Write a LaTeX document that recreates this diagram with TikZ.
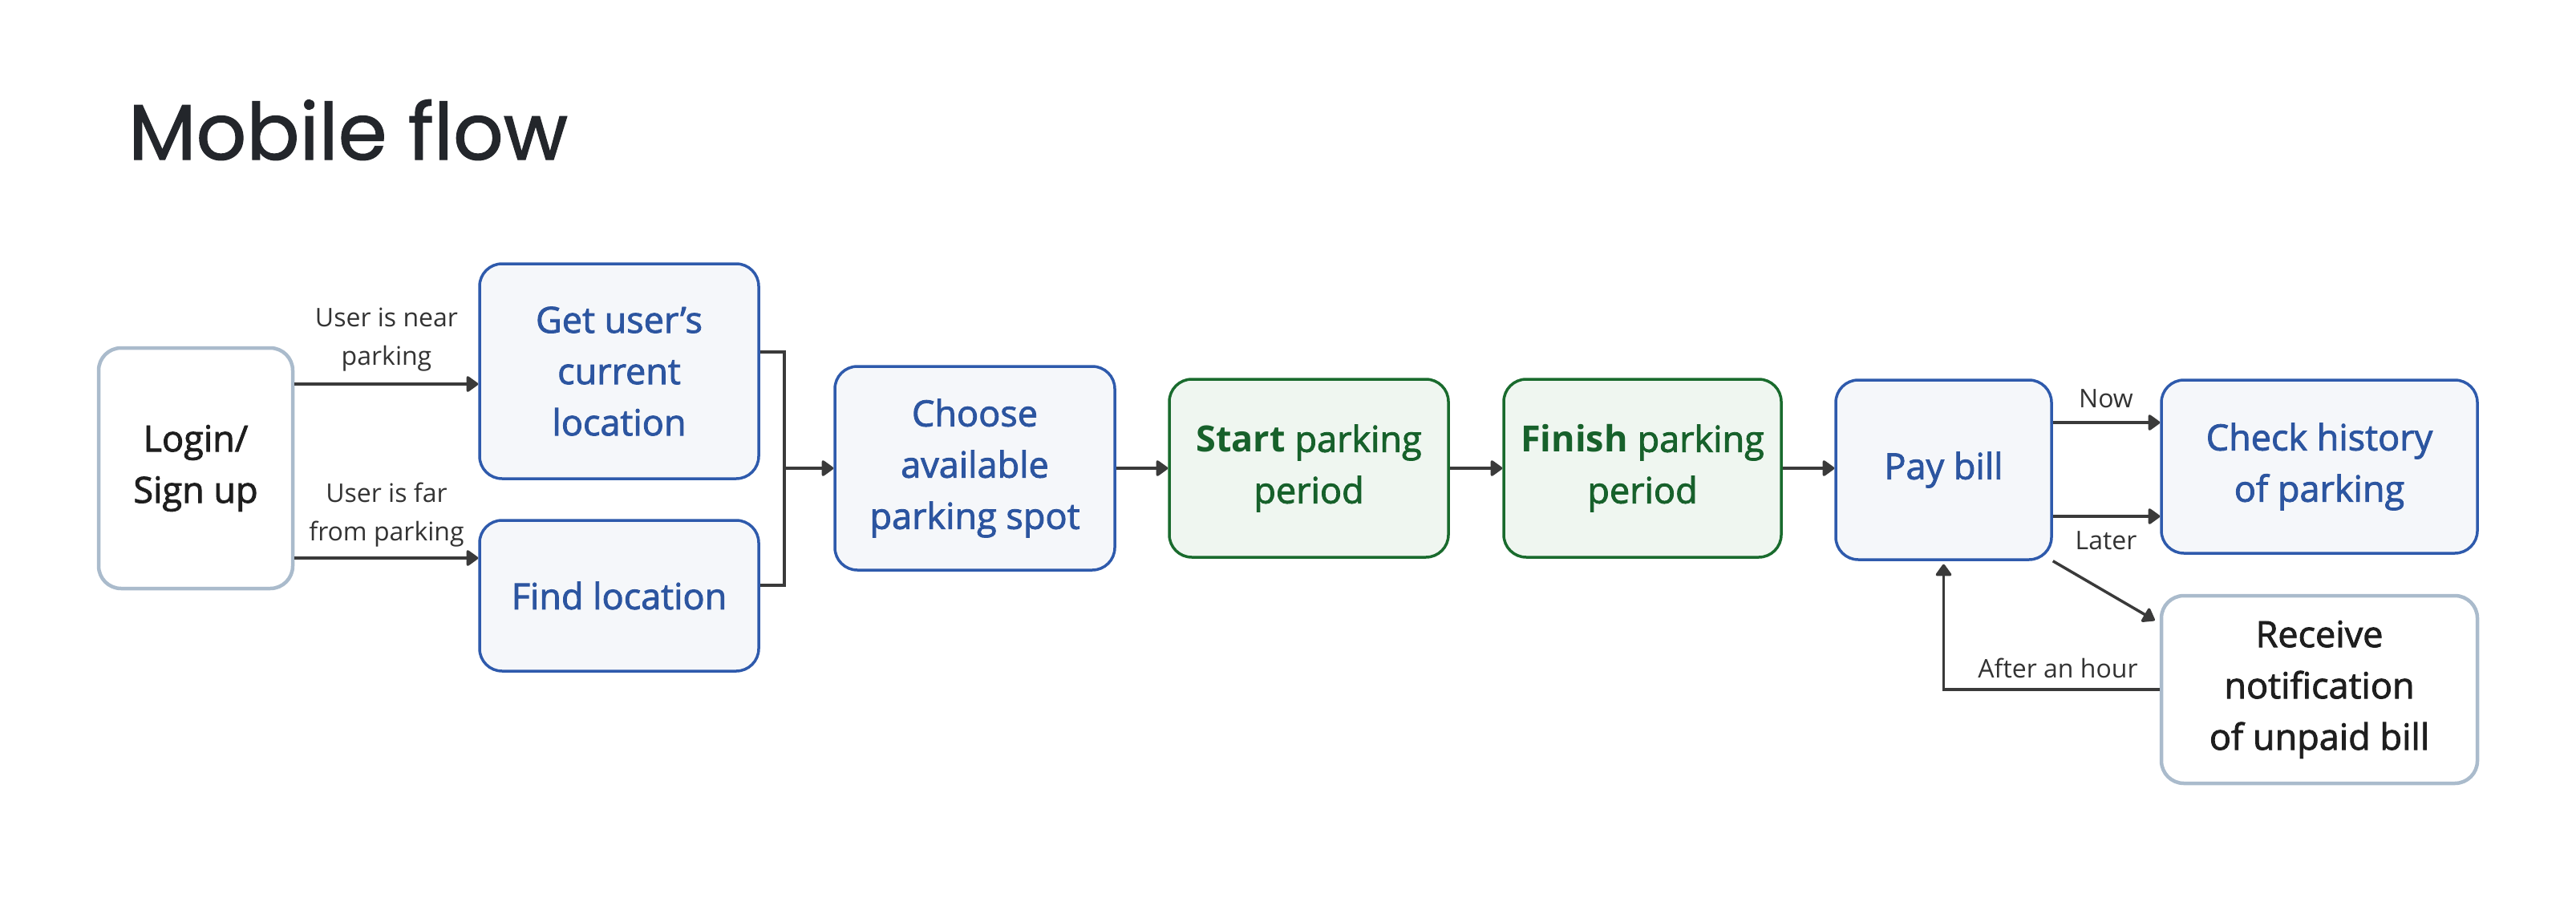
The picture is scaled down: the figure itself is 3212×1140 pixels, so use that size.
\documentclass[tikz,border=0pt]{standalone}
\usepackage{fontspec}
\setmainfont{Open Sans}
\newfontfamily\semib{Open Sans}[UprightFeatures={FakeBold=2}]
\newfontfamily\titlefont{Poppins}[FakeBold=1.2]
\usetikzlibrary{arrows.meta}
\definecolor{cBlueB}{HTML}{2E5AAC}
\definecolor{cBlueF}{HTML}{F5F7FA}
\definecolor{cBlueT}{HTML}{2C55A0}
\definecolor{cGreenB}{HTML}{196B2D}
\definecolor{cGreenF}{HTML}{EFF6F0}
\definecolor{cGreenT}{HTML}{17612B}
\definecolor{cGrayB}{HTML}{AABBCC}
\definecolor{cDark}{HTML}{1E1E1E}
\definecolor{cLine}{HTML}{3A3A3A}
\definecolor{cLbl}{HTML}{333333}
\definecolor{cTitle}{HTML}{23262B}
\begin{document}
\begin{tikzpicture}[x=1pt,y=-1pt,
  box/.style={rectangle, rounded corners=28pt, line width=3.5pt, align=center, inner sep=0pt, font=\semib\fontsize{45}{64}\selectfont},
  bluebox/.style={box, draw=cBlueB, fill=cBlueF, text=cBlueT},
  greenbox/.style={box, draw=cGreenB, fill=cGreenF, text=cGreenT},
  graybox/.style={box, draw=cGrayB, line width=4.5pt, fill=white, text=cDark},
  lbl/.style={font=\fontsize{32}{48}\selectfont, text=cLbl, align=center, inner sep=0pt},
  arr/.style={draw=cLine, line width=3.5pt, -{Triangle[length=16pt,width=22pt,round]}},
  conn/.style={draw=cLine, line width=3.5pt}
]
\useasboundingbox[fill=white] (0,0) rectangle (3212,1140);

\node[anchor=base west, inner sep=0pt, text=cTitle, font=\titlefont\fontsize{98}{110}\selectfont] (title) at (160,199) {Mobile flow};

\node[graybox, minimum width=242pt, minimum height=300pt] (login) at (244,584) {Login/\\Sign up};
\node[bluebox, minimum width=348pt, minimum height=268pt] (get) at (772,463) {Get user’s\\current\\location};
\node[bluebox, minimum width=348pt, minimum height=188pt] (find) at (772,743) {Find location};
\node[bluebox, minimum width=349pt, minimum height=254pt] (choose) at (1215.5,584) {Choose\\available\\parking spot};
\node[greenbox, minimum width=348pt, minimum height=222pt] (start) at (1632,584) {{\bfseries Start} parking\\period};
\node[greenbox, minimum width=346pt, minimum height=222pt] (finish) at (2048,584) {{\bfseries Finish} parking\\period};
\node[bluebox, minimum width=269pt, minimum height=224pt] (pay) at (2423.5,586) {Pay bill};
\node[bluebox, minimum width=394pt, minimum height=216pt] (check) at (2892,582) {Check history\\of parking};
\node[graybox, minimum width=394pt, minimum height=234pt] (receive) at (2892,860) {Receive\\notification\\of unpaid bill};

% login branches
\coordinate (l1) at ([yshift=105pt]login.east);
\coordinate (l2) at ([yshift=-112pt]login.east);
\draw[arr] (l1) -- (l1 -| get.west);
\draw[arr] (l2) -- (l2 -| find.west);
\node[lbl] (lnear) at (482,424) {User is near\\parking};
\node[lbl] (lfar) at (482,642) {User is far\\from parking};

% bracket
\coordinate (j) at (978,584);
\draw[conn] ([yshift=24pt]get.east) -| (j);
\draw[conn] ([yshift=13pt]find.east) -| (j);
\draw[arr] (j) -- (choose.west);

\draw[arr] (choose.east) -- (start.west);
\draw[arr] (start.east) -- (finish.west);
\draw[arr] (finish.east) -- (finish.east -| pay.west);

% pay branches
\coordinate (pn) at ([yshift=59pt]pay.east);
\coordinate (pl) at ([yshift=-58pt]pay.east);
\draw[arr] (pn) -- (pn -| check.west);
\draw[arr] (pl) -- (pl -| check.west);
\node[lbl] (lnow) at (2626,497) {Now};
\node[lbl] (llater) at (2626,674) {Later};
\draw[arr] (pay.south east) -- ([xshift=-6pt,yshift=-33pt]receive.north west);
\draw[arr] (receive.west) -| ([yshift=-4pt]pay.south);
\node[lbl] (lhour) at (2566,833) {After an hour};
\end{tikzpicture}
\end{document}
